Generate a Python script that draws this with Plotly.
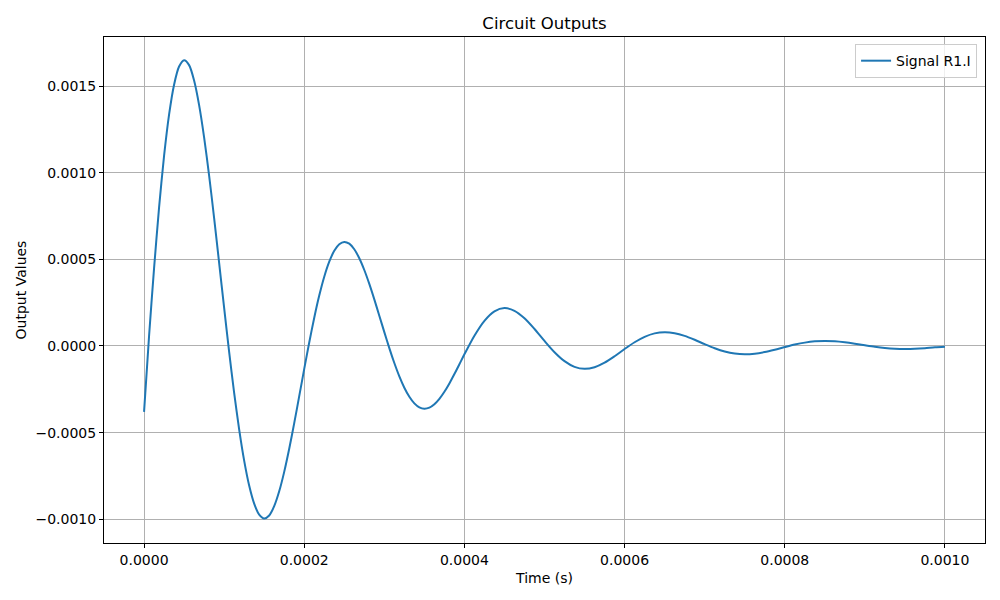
import plotly.graph_objects as go

# Sample times (microseconds)
time_us = [0, 6.25, 12.5, 18.75, 25, 31.25, 37.5, 43.75, 50, 56.25, 62.5, 68.75, 75, 81.25, 87.5, 93.75,
           100, 106.25, 112.5, 118.75, 125, 131.25, 137.5, 143.75, 150, 156.25, 162.5, 168.75, 175, 181.25,
           187.5, 193.75, 200, 206.25, 212.5, 218.75, 225, 231.25, 237.5, 243.75, 250, 256.25, 262.5, 268.75,
           275, 281.25, 287.5, 293.75, 300, 306.25, 312.5, 318.75, 325, 331.25, 337.5, 343.75, 350, 356.25,
           362.5, 368.75, 375, 381.25, 387.5, 393.75, 400,
           412.5, 425, 437.5, 450, 462.5, 475, 487.5,
           500, 512.5, 525, 537.5, 550, 562.5, 575, 587.5,
           600, 612.5, 625, 637.5, 650, 662.5, 675, 687.5, 700, 712.5, 725, 737.5, 750, 762.5, 775, 787.5,
           800, 812.5, 825, 837.5, 850, 862.5, 875, 887.5, 900, 912.5, 925, 937.5, 950, 962.5, 975, 987.5,
           1000]

# Signal R1.I values (x 1e-3)
signal_r1_i_milli = [-0.380, 0.0558, 0.4474, 0.7980, 1.0966, 1.3350, 1.5079, 1.6126, 1.6493, 1.6207,
                     1.5320, 1.3902, 1.2039, 0.9831, 0.7382, 0.4801,
                     0.2194, -0.0337, -0.2700, -0.4815, -0.6618, -0.8057, -0.9100, -0.9732, -0.9953, -0.9781,
                     -0.9245, -0.8389, -0.7265, -0.5933,
                     -0.4454, -0.2897, -0.1324, 0.0203, 0.1629, 0.2906, 0.3994, 0.4862, 0.5492, 0.5873,
                     0.6007, 0.5902, 0.5579, 0.5063,
                     0.4384, 0.3580, 0.2688, 0.1748, 0.0799, -0.0123, -0.0983, -0.1754, -0.2410, -0.2934,
                     -0.3314, -0.3544, -0.3624, -0.3562,
                     -0.3366, -0.3055, -0.2646, -0.2161, -0.1622, -0.1055, -0.0482,
                     0.0593, 0.1454, 0.2000, 0.2187, 0.2031, 0.1597, 0.0979,
                     0.0291, -0.0358, -0.0877, -0.1206, -0.1320, -0.1226, -0.0963, -0.0591,
                     -0.0176, 0.0216, 0.0530, 0.0728, 0.0796, 0.0740, 0.0581, 0.0357,
                     0.0106, -0.0130, -0.0319, -0.0439, -0.0481, -0.0447, -0.0351, -0.0215,
                     -0.0064, 0.0079, 0.0193, 0.0266, 0.0290, 0.0269, 0.0211, 0.0130,
                     0.0039, -0.0048, -0.0117, -0.0160, -0.0175, -0.0163, -0.0128, -0.0078,
                     -0.0050]

x_ticks = [0.0, 0.0002, 0.0004, 0.0006, 0.0008, 0.0010]
y_ticks = [-0.0010, -0.0005, 0.0, 0.0005, 0.0010, 0.0015]

t = [v * 1e-6 for v in time_us]
y = [v * 1e-3 for v in signal_r1_i_milli]

fig = go.Figure()
fig.add_trace(go.Scatter(x=t, y=y, mode="lines", name="Signal R1.I",
                         line=dict(color="#1f77b4", width=2, shape="spline", smoothing=0.8)))

axis_common = dict(showline=True, linecolor="black", linewidth=1, mirror=True,
                   showgrid=True, gridcolor="#b0b0b0", gridwidth=1,
                   ticks="outside", ticklen=4, tickcolor="black", zeroline=False,
                   tickfont=dict(family="DejaVu Sans", size=14, color="black"))

fig.update_layout(
    width=1000, height=600,
    paper_bgcolor="white", plot_bgcolor="white",
    margin=dict(l=104, r=15, t=37, b=57),
    font=dict(family="DejaVu Sans", color="black"),
    title=dict(text="Circuit Outputs", x=0.5, xanchor="center", y=1 - 23 / 600, yanchor="middle",
               xref="paper", font=dict(size=16.5, family="DejaVu Sans", color="black")),
    xaxis=dict(axis_common, range=[-0.00005, 0.00105], tickvals=x_ticks, tickformat=".4f",
               title=dict(text="Time (s)", font=dict(size=14), standoff=6)),
    yaxis=dict(axis_common, range=[-0.001137, 0.001783], tickvals=y_ticks, tickformat=".4f",
               title=dict(text="Output Values", font=dict(size=14), standoff=5)),
    showlegend=True,
    legend=dict(x=0.991, y=0.986, xanchor="right", yanchor="top",
                bgcolor="rgba(255,255,255,0.8)", bordercolor="#cccccc", borderwidth=1,
                font=dict(size=14, family="DejaVu Sans", color="black")),
)

fig.write_html("out.html", config={"displayModeBar": False},
               post_script="document.body.style.margin='0';")
